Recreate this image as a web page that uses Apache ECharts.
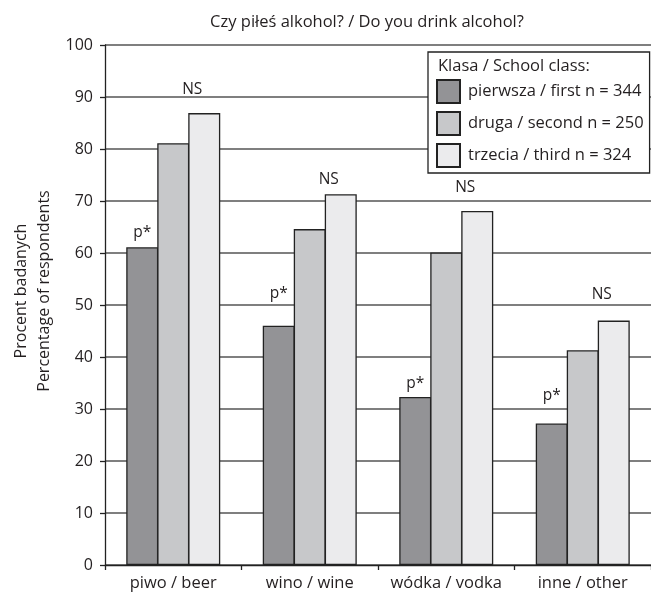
<!DOCTYPE html>
<html>
<head>
<meta charset="utf-8">
<script src="https://cdn.jsdelivr.net/npm/echarts@6/dist/echarts.min.js"></script>
<style>
  html, body { margin: 0; padding: 0; background: #fff; }
  #chart { width: 651px; height: 592px; }
</style>
</head>
<body>
<div id="chart"></div>
<script>
// Share of respondents who drink each kind of alcohol, by school class
const categories = ['piwo / beer', 'wino / wine', 'wódka / vodka', 'inne / other'];
const classNames = ['pierwsza / first n = 344', 'druga / second n = 250', 'trzecia / third n = 324'];
const firstClass = [61.1, 46.0, 32.3, 27.2];
const secondClass = [81.1, 64.6, 60.1, 41.3];
const thirdClass = [86.9, 71.3, 68.1, 47.0];
const firstNotes = ['p*', 'p*', 'p*', 'p*'];
const thirdNotes = ['NS', 'NS', 'NS', 'NS'];

// pixel gap between bar top and its significance note
const firstNoteGap = [7, 24, 5, 20];
const thirdNoteGap = [15.5, 6.5, 15.5, 18.5];

const FONT = 'Open Sans';
const INK = '#231f20';
const colors = ['#939396', '#c7c8ca', '#ebebed'];

function withNotes(values, notes, gaps, offset) {
  return values.map((v, i) => ({
    value: v,
    label: {
      show: true,
      position: 'top',
      formatter: notes[i],
      distance: gaps[i],
      offset: offset,
      color: INK,
      fontFamily: FONT,
      fontSize: 15.5
    }
  }));
}

const barStyle = (c) => ({ color: c, borderColor: '#222', borderWidth: 1.3 });

const chart = echarts.init(document.getElementById('chart'), null, { renderer: 'canvas' });
chart.setOption({
  animation: false,
  textStyle: { fontFamily: FONT, color: INK },
  grid: { left: 105, top: 45, width: 558, height: 521, containLabel: false },
  graphic: [
    {
      type: 'text', x: 367, y: 22, z: 100,
      style: {
        text: 'Czy piłeś alkohol? / Do you drink alcohol?', fill: INK,
        font: '16.5px "Open Sans"', align: 'center', verticalAlign: 'middle'
      }
    },
    {
      type: 'text', x: 438, y: 66, z: 100,
      style: {
        text: 'Klasa / School class:', fill: INK,
        font: '16.5px "Open Sans"', align: 'left', verticalAlign: 'middle'
      }
    },
    {
      type: 'text', x: 33, y: 291, rotation: Math.PI / 2, z: 100,
      style: {
        text: 'Procent badanych\nPercentage of respondents', fill: INK,
        font: '16px "Open Sans"', lineHeight: 23, align: 'center', verticalAlign: 'middle'
      }
    }
  ],
  legend: {
    orient: 'vertical',
    left: 428,
    top: 52,
    padding: [27, 6, 5, 8],
    itemWidth: 23,
    itemHeight: 23,
    itemGap: 7,
    backgroundColor: '#fff',
    borderColor: '#222',
    borderWidth: 1.3,
    borderRadius: 0,
    icon: 'rect',
    textStyle: { fontFamily: FONT, fontSize: 16.5, color: INK, padding: [0, 0, 0, 3] },
    data: classNames
  },
  xAxis: {
    type: 'category',
    data: categories,
    axisLine: { lineStyle: { color: '#222', width: 1.3 } },
    axisTick: { show: true, length: 5, lineStyle: { color: '#222', width: 1.3 } },
    axisLabel: { interval: 0, color: INK, fontFamily: FONT, fontSize: 16.5, margin: 10 }
  },
  yAxis: {
    type: 'value',
    min: 0,
    max: 100,
    interval: 10,
    axisLine: { show: true, lineStyle: { color: '#222', width: 1.3 } },
    axisTick: { show: true, length: 5, lineStyle: { color: '#222', width: 1.3 } },
    axisLabel: { color: INK, fontFamily: FONT, fontSize: 16, margin: 12 },
    splitLine: { lineStyle: { color: '#555', width: 1.5 } }
  },
  series: [
    {
      name: classNames[0], type: 'bar', barWidth: 32, barGap: '-3.125%',
      itemStyle: barStyle(colors[0]),
      data: withNotes(firstClass, firstNotes, firstNoteGap, [0, 0])
    },
    {
      name: classNames[1], type: 'bar', barWidth: 32, barGap: '-3.125%',
      itemStyle: barStyle(colors[1]),
      data: secondClass
    },
    {
      name: classNames[2], type: 'bar', barWidth: 32, barGap: '-3.125%',
      itemStyle: barStyle(colors[2]),
      data: withNotes(thirdClass, thirdNotes, thirdNoteGap, [-12, 0])
    }
  ]
});
</script>
</body>
</html>
